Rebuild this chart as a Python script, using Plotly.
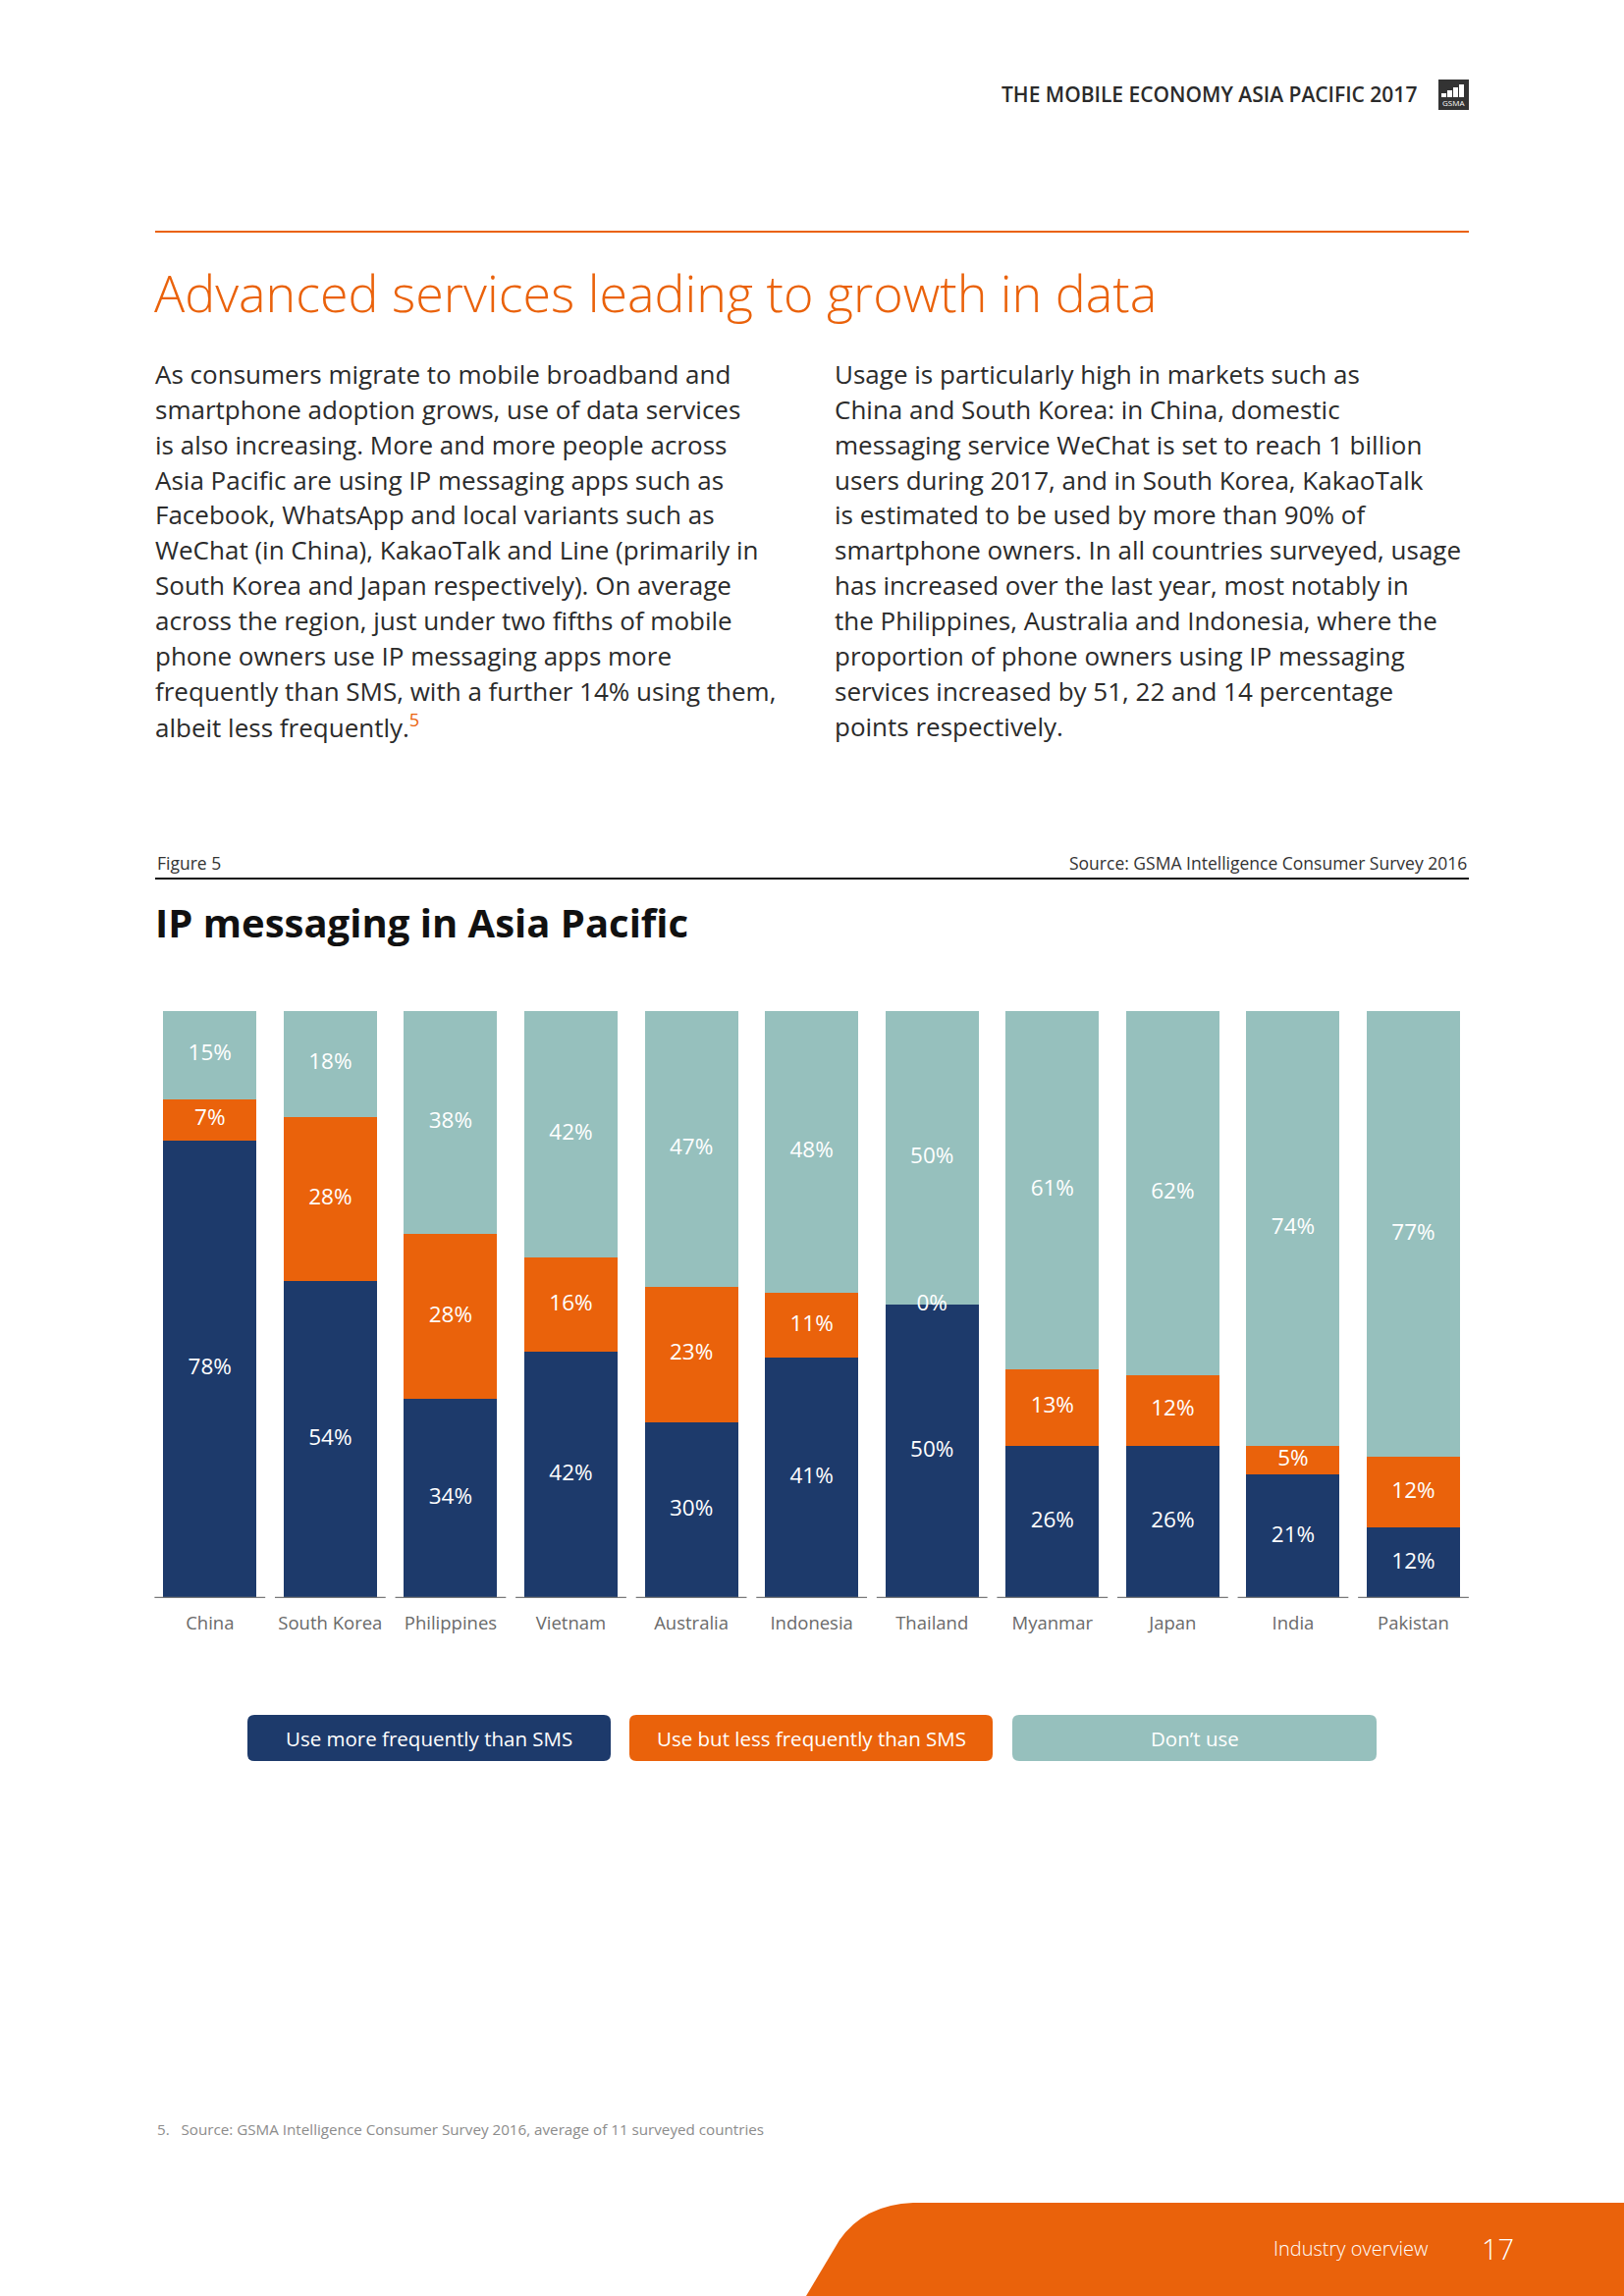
import plotly.graph_objects as go

# ---------------- data ----------------
countries = ["China", "South Korea", "Philippines", "Vietnam", "Australia", "Indonesia",
             "Thailand", "Myanmar", "Japan", "India", "Pakistan"]
more_than_sms = [78, 54, 34, 42, 30, 41, 50, 26, 26, 21, 12]
less_than_sms = [7, 28, 28, 16, 23, 11, 0, 13, 12, 5, 12]
dont_use = [15, 18, 38, 42, 47, 48, 50, 61, 62, 74, 77]
series_names = ["Use more frequently than SMS", "Use but less frequently than SMS", "Don’t use"]

NAVY = "#1D3A6B"
ORANGE = "#EA620B"
TEAL = "#96C0BD"
DARK = "#2b2b2b"
FONT = "Open Sans"

W, H = 1654, 2339


def px(x):
    return x / W


def py(y):
    return 1 - y / H


fig = go.Figure()
series = [more_than_sms, less_than_sms, dont_use]
colors = [NAVY, ORANGE, TEAL]
for name, vals, col in zip(series_names, series, colors):
    fig.add_trace(go.Bar(x=countries, y=vals, name=name, marker=dict(color=col, line=dict(width=0)),
                         width=0.775, showlegend=False, hoverinfo="x+y"))

# value labels at segment midpoints (segments are clipped at 100%)
lx, ly, lt = [], [], []
for i, c in enumerate(countries):
    base = 0
    for vals in series:
        v = vals[i]
        top = min(base + v, 100)
        lx.append(c)
        ly.append((base + top) / 2)
        lt.append(f"{v}%")
        base += v
fig.add_trace(go.Scatter(x=lx, y=ly, text=lt, mode="text", showlegend=False, hoverinfo="skip",
                         textposition="middle center",
                         textfont=dict(family=FONT, size=22.5, color="white")))

shapes = []
# baseline segments under each bar
for i in range(len(countries)):
    shapes.append(dict(type="line", xref="x", yref="y", x0=i - 0.46, x1=i + 0.46, y0=0, y1=0,
                       line=dict(color="#7a7a7a", width=2.5), layer="above"))

# page rules
shapes.append(dict(type="line", xref="paper", yref="paper", x0=px(158), x1=px(1496), y0=py(236), y1=py(236),
                   line=dict(color=ORANGE, width=2)))
shapes.append(dict(type="line", xref="paper", yref="paper", x0=px(158), x1=px(1496), y0=py(895), y1=py(895),
                   line=dict(color="#111111", width=2)))


def rounded_rect(x0, y0, x1, y1, r):
    rx, ry = r / W, r / H
    X0, X1 = px(x0), px(x1)
    Y0, Y1 = py(y1), py(y0)  # bottom, top in paper
    return (f"M {X0+rx},{Y0} L {X1-rx},{Y0} Q {X1},{Y0} {X1},{Y0+ry} L {X1},{Y1-ry} "
            f"Q {X1},{Y1} {X1-rx},{Y1} L {X0+rx},{Y1} Q {X0},{Y1} {X0},{Y1-ry} "
            f"L {X0},{Y0+ry} Q {X0},{Y0} {X0+rx},{Y0} Z")


legend_boxes = [(252, 622), (641, 1011), (1031, 1402)]
annotations = []
for (x0, x1), name, col in zip(legend_boxes, series_names, colors):
    shapes.append(dict(type="path", xref="paper", yref="paper", path=rounded_rect(x0, 1747, x1, 1794, 7),
                       fillcolor=col, line=dict(width=0)))
    annotations.append(dict(xref="paper", yref="paper", x=px((x0 + x1) / 2), y=py(1771), text=name,
                            showarrow=False, xanchor="center", yanchor="middle",
                            font=dict(family=FONT, size=20.5, color="white")))

# footer orange shape
fpath = (f"M {px(821)},{py(2339)} L {px(855)},{py(2282)} Q {px(880)},{py(2246)} {px(930)},{py(2244)} "
         f"L {px(1654)},{py(2244)} L {px(1654)},{py(2339)} Z")
shapes.append(dict(type="path", xref="paper", yref="paper", path=fpath, fillcolor=ORANGE, line=dict(width=0)))

# logo
shapes.append(dict(type="rect", xref="paper", yref="paper", x0=px(1465), x1=px(1496), y0=py(112), y1=py(81),
                   fillcolor="#333333", line=dict(width=0)))
for j, (bx, top) in enumerate([(1468, 95), (1474, 92), (1480, 89), (1486, 86)]):
    shapes.append(dict(type="rect", xref="paper", yref="paper", x0=px(bx), x1=px(bx + 5), y0=py(99), y1=py(top),
                       fillcolor="white", line=dict(width=0)))
annotations.append(dict(xref="paper", yref="paper", x=px(1480.5), y=py(104.5), text="GSMA", showarrow=False,
                        xanchor="center", yanchor="middle", font=dict(family=FONT, size=8, color="white")))

# header
annotations.append(dict(xref="paper", yref="paper", x=px(1445), y=py(96), text="THE MOBILE ECONOMY ASIA PACIFIC 2017",
                        showarrow=False, xanchor="right", yanchor="middle",
                        font=dict(family=FONT, size=21, color=DARK, weight=600)))

# page title
annotations.append(dict(xref="paper", yref="paper", x=px(155), y=py(297),
                        text="Advanced services leading to growth in data",
                        showarrow=False, xanchor="left", yanchor="middle",
                        font=dict(family=FONT, size=52, color=ORANGE, weight=300)))

left_lines = [
    "As consumers migrate to mobile broadband and",
    "smartphone adoption grows, use of data services",
    "is also increasing. More and more people across",
    "Asia Pacific are using IP messaging apps such as",
    "Facebook, WhatsApp and local variants such as",
    "WeChat (in China), KakaoTalk and Line (primarily in",
    "South Korea and Japan respectively). On average",
    "across the region, just under two fifths of mobile",
    "phone owners use IP messaging apps more",
    "frequently than SMS, with a further 14% using them,",
    "albeit less frequently.<sup><span style='color:#EA620B'>5</span></sup>",
]
right_lines = [
    "Usage is particularly high in markets such as",
    "China and South Korea: in China, domestic",
    "messaging service WeChat is set to reach 1 billion",
    "users during 2017, and in South Korea, KakaoTalk",
    "is estimated to be used by more than 90% of",
    "smartphone owners. In all countries surveyed, usage",
    "has increased over the last year, most notably in",
    "the Philippines, Australia and Indonesia, where the",
    "proportion of phone owners using IP messaging",
    "services increased by 51, 22 and 14 percentage",
    "points respectively.",
]
for col_x, lines in [(156, left_lines), (848, right_lines)]:
    for k, t in enumerate(lines):
        annotations.append(dict(xref="paper", yref="paper", x=px(col_x), y=py(381 + k * 35.85), text=t,
                                showarrow=False, xanchor="left", yanchor="middle",
                                font=dict(family=FONT, size=26, color=DARK)))

annotations.append(dict(xref="paper", yref="paper", x=px(158), y=py(879), text="Figure 5", showarrow=False,
                        xanchor="left", yanchor="middle", font=dict(family=FONT, size=17.5, color="#333333")))
annotations.append(dict(xref="paper", yref="paper", x=px(1496), y=py(879),
                        text="Source: GSMA Intelligence Consumer Survey 2016", showarrow=False,
                        xanchor="right", yanchor="middle", font=dict(family=FONT, size=17.5, color="#333333")))
annotations.append(dict(xref="paper", yref="paper", x=px(156), y=py(939), text="IP messaging in Asia Pacific",
                        showarrow=False, xanchor="left", yanchor="middle",
                        font=dict(family=FONT, size=40, color="#111111", weight=700)))

annotations.append(dict(xref="paper", yref="paper", x=px(158), y=py(2169),
                        text="5.&nbsp;&nbsp;&nbsp;Source: GSMA Intelligence Consumer Survey 2016, average of 11 surveyed countries",
                        showarrow=False, xanchor="left", yanchor="middle",
                        font=dict(family=FONT, size=15.2, color="#8c8c8c")))
annotations.append(dict(xref="paper", yref="paper", x=px(1457), y=py(2290), text="Industry overview",
                        showarrow=False, xanchor="right", yanchor="middle",
                        font=dict(family=FONT, size=20, color="white", weight=300)))
annotations.append(dict(xref="paper", yref="paper", x=px(1507), y=py(2290), text="17",
                        showarrow=False, xanchor="left", yanchor="middle",
                        font=dict(family=FONT, size=29, color="white", weight=300)))

fig.update_layout(
    width=W, height=H,
    margin=dict(l=0, r=0, t=0, b=0, pad=0),
    paper_bgcolor="white", plot_bgcolor="white",
    barmode="stack", bargap=0.225,
    showlegend=False,
    xaxis=dict(domain=[px(152.5), px(1500.8)], range=[-0.5, 10.5], type="category",
               showgrid=False, zeroline=False, showline=False, ticks="",
               tickfont=dict(family=FONT, size=18.5, color="#6a6a6a"), ticklabelstandoff=12),
    yaxis=dict(domain=[py(1628), py(1030)], range=[0, 100], visible=False, showgrid=False, fixedrange=True),
    shapes=shapes,
    annotations=annotations,
)

fig.write_html("out.html", config={"displayModeBar": False},
               post_script="document.body.style.margin='0';")
